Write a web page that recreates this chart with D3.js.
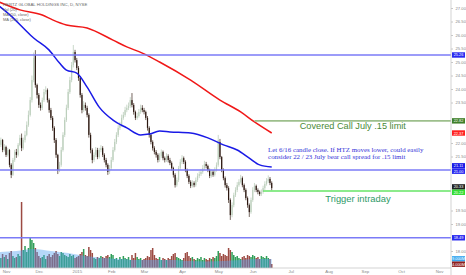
<!DOCTYPE html>
<html><head><meta charset="utf-8">
<script src="https://cdn.jsdelivr.net/npm/d3@7"></script>
<style>html,body{margin:0;padding:0;background:#fff;overflow:hidden}</style>
</head><body><svg id="c" width="466" height="275"></svg>
<script>
// ---- data (bar index 0 = 28 Oct 2014 ... 158 = 16 Jun 2015) ----
const opens=[21.80,21.93,22.11,21.74,21.85,21.56,21.74,21.19,20.82,21.37,
21.67,21.56,21.93,22.19,21.81,22.11,22.30,22.67,23.04,23.59,
24.33,25.26,24.15,23.78,23.41,23.30,23.59,23.89,23.96,23.59,
23.22,22.93,22.56,22.11,21.56,21.00,21.19,21.74,22.30,22.85,
23.30,23.89,24.33,24.89,25.37,25.07,24.78,24.41,23.78,23.22,
23.41,23.30,23.04,22.30,21.74,21.37,21.56,21.74,21.48,21.74,
21.81,21.56,21.37,21.19,20.93,21.07,21.37,21.74,22.04,22.30,
22.56,22.67,22.93,23.04,23.22,23.30,23.37,23.59,23.41,23.15,
22.93,23.00,23.15,23.30,23.22,23.15,22.93,22.56,22.30,22.04,
21.81,21.67,21.56,21.37,21.52,21.67,21.44,21.37,21.52,21.37,
21.26,21.07,20.82,20.44,20.63,21.07,21.30,21.44,21.30,21.00,
20.78,20.56,20.41,20.52,20.44,20.63,20.78,20.85,20.93,21.07,
21.22,21.15,21.00,20.78,20.93,20.82,21.00,21.19,22.04,21.48,
21.00,20.70,20.44,20.33,19.89,19.33,19.70,20.07,20.26,20.44,
20.56,20.70,20.44,20.26,19.96,19.70,19.44,19.89,20.26,20.41,
20.26,20.19,20.11,20.19,20.33,20.48,20.59,20.67,20.52];
const closes=[21.93,22.11,21.74,21.85,21.56,21.74,21.19,20.82,21.37,21.67,
21.56,21.93,22.19,21.81,22.11,22.30,22.67,23.04,23.59,24.33,
25.15,24.15,23.78,23.41,23.30,23.59,23.89,23.96,23.59,23.22,
22.93,22.56,22.11,21.56,21.00,21.19,21.74,22.30,22.85,23.30,
23.89,24.33,24.89,25.37,25.07,24.78,24.41,23.78,23.22,23.41,
23.30,23.04,22.30,21.74,21.37,21.56,21.74,21.48,21.74,21.81,
21.56,21.37,21.19,20.93,21.07,21.37,21.74,22.04,22.30,22.56,
22.67,22.93,23.04,23.22,23.30,23.37,23.59,23.41,23.15,22.93,
23.00,23.15,23.30,23.22,23.15,22.93,22.56,22.30,22.04,21.81,
21.67,21.56,21.37,21.52,21.67,21.44,21.37,21.52,21.37,21.26,
21.07,20.82,20.44,20.63,21.07,21.30,21.44,21.30,21.00,20.78,
20.56,20.41,20.52,20.44,20.63,20.78,20.85,20.93,21.07,21.22,
21.15,21.00,20.78,20.93,20.82,21.00,21.19,22.11,21.48,21.00,
20.70,20.44,20.33,19.89,19.33,19.70,20.07,20.26,20.44,20.56,
20.70,20.44,20.26,19.96,19.70,19.44,19.89,20.26,20.41,20.26,
20.19,20.11,20.19,20.33,20.48,20.59,20.67,20.52,20.33];
const highs=[22.05,22.20,22.15,21.96,21.90,21.82,21.78,21.25,21.45,21.75,
21.78,22.00,22.30,22.35,22.20,22.45,22.80,23.20,23.70,24.50,
25.35,25.44,24.20,23.85,23.50,23.68,24.00,24.10,24.02,23.65,
23.30,23.00,22.62,22.18,21.60,21.30,21.85,22.40,22.95,23.42,
24.00,24.45,25.00,25.63,25.45,25.15,24.85,24.48,23.85,23.55,
23.50,23.38,23.10,22.38,21.80,21.65,21.85,21.82,21.82,21.92,
21.88,21.62,21.45,21.25,21.18,21.48,21.85,22.15,22.40,22.66,
22.78,23.05,23.15,23.34,23.42,23.50,23.70,23.85,23.48,23.20,
23.12,23.26,23.42,23.40,23.30,23.20,23.00,22.62,22.36,22.10,
21.88,21.74,21.62,21.62,21.76,21.72,21.50,21.62,21.58,21.45,
21.32,21.12,20.88,20.72,21.15,21.40,21.55,21.50,21.36,21.05,
20.84,20.62,20.62,20.58,20.72,20.88,20.95,21.04,21.18,21.34,
21.30,21.20,21.05,21.02,21.00,21.10,21.28,22.30,22.15,21.52,
21.06,20.76,20.52,20.40,19.95,19.80,20.16,20.36,20.55,20.66,
20.82,20.76,20.50,20.32,20.02,19.76,19.98,20.36,20.52,20.46,
20.32,20.24,20.28,20.42,20.58,20.70,20.80,20.74,20.58];
const lows=[21.72,21.85,21.66,21.68,21.48,21.50,21.10,20.70,20.78,21.30,
21.45,21.50,21.88,21.70,21.75,22.02,22.25,22.60,22.98,23.50,
24.25,24.05,23.65,23.30,23.20,23.22,23.52,23.80,23.50,23.12,
22.85,22.45,22.00,21.45,20.85,20.92,21.12,21.68,22.22,22.78,
23.22,23.82,24.25,24.80,24.98,24.70,24.30,23.68,23.10,23.15,
23.20,22.95,22.20,21.62,21.25,21.30,21.48,21.40,21.42,21.66,
21.48,21.28,21.10,20.82,20.85,21.00,21.30,21.68,21.96,22.22,
22.48,22.60,22.86,22.97,23.14,23.22,23.30,23.32,23.05,22.85,
22.86,22.94,23.08,23.14,23.06,22.85,22.46,22.20,21.95,21.72,
21.58,21.46,21.28,21.30,21.45,21.36,21.28,21.30,21.28,21.18,
20.98,20.72,20.35,20.38,20.56,21.00,21.22,21.22,20.92,20.70,
20.48,20.33,20.35,20.36,20.38,20.56,20.70,20.78,20.86,21.00,
21.06,20.92,20.70,20.72,20.75,20.76,20.94,21.12,21.40,20.92,
20.62,20.35,20.24,19.78,19.15,19.25,19.62,20.00,20.18,20.38,
20.50,20.36,20.18,19.88,19.60,19.26,19.38,19.82,20.18,20.18,
20.10,20.04,20.04,20.12,20.26,20.42,20.52,20.44,20.25];
const volumes=[12,10,14,11,13,9,15,17,12,10,11,14,12,
66,
18,22,16,20,30,28,25,
20,16,12,10,11,13,9,12,14,11,13,15,17,14,12,
16,15,13,12,11,14,12,13,10,11,
12,14,16,19,13,12,21,18,15,10,9,11,10,12,11,
10,12,13,11,14,13,9,10,8,11,9,12,10,9,11,8,13,10,15,11,
9,10,8,9,10,12,11,18,20,13,10,9,11,8,10,9,8,10,9,12,
14,15,11,10,9,8,10,15,16,12,10,11,9,8,10,9,11,8,10,9,
8,10,9,11,10,12,17,15,12,14,13,12,20,18,16,13,11,12,10,9,
11,12,10,13,12,11,13,12,10,11,9,12,11,10,12,10,9,4];
const volMaIdx=[0,10,20,30,40,50,60,70,80,90,100,110,120,130,140,150,158];
const volMaVal=[16,17,19,17,15,12,10,9,8,8,8,7,6.5,7,8,9,9];
const ma50Idx=[0,7,14,20,29,35,39,45,51,58,66,74,82,87,93,99,111,121,130,138,145,151,158];
const ma50Val=[27.07,26.70,26.26,25.89,25.44,24.96,24.70,24.59,24.07,23.33,22.85,22.56,22.30,22.33,22.44,22.41,22.37,22.19,21.93,21.74,21.44,21.19,21.11];
const ma200Idx=[0,12,25,31,39,51,66,74,83,93,111,128,140,148,158];
const ma200Val=[27.22,26.93,26.74,26.56,26.37,26.26,25.81,25.56,25.33,25.00,24.33,23.59,23.15,22.78,22.37];
const levelVals=[25.26,22.82,21.00,20.22,18.49];
const levelStart=[0,148,0,153,0];
const priceTicks=[27,26.5,26,25.5,25,24.5,24,23.5,23,22.5,22,21.5,21,20.5,20,19.5,19,18.5,18];
const monthIdx=[4,23,45,65,84,106,127,147,169,191,212,233,255];
const monthLabels=["Nov","Dec","2015","Feb","Mar","Apr","May","Jun","Jul","Aug","Sep","Oct","Nov"];
const legendLines=["HERTZ GLOBAL HOLDINGS INC, D, NYSE","Vol (20)","MA (50, close)","MA (200, close)"];

// ---- drawing ----
const svg=d3.select("#c");
const PW=451, PB=268;
const x=d3.scaleLinear().domain([0.5,262.5]).range([0,452]);
const y=d3.scaleLinear().domain([18,27]).range([251,8]);
const yV=d3.scaleLinear().domain([0,66]).range([PB,202]);
svg.append("rect").attr("width",466).attr("height",275).attr("fill","#fff");
svg.append("defs").append("clipPath").attr("id","clip").append("rect").attr("x",0).attr("y",0).attr("width",PW).attr("height",PB);
const g=svg.append("g").attr("clip-path","url(#clip)");
const idx=d3.range(closes.length);
const up=i=>closes[i]>=opens[i];

// volume bars
g.selectAll(".vb").data(idx).join("rect")
 .attr("x",i=>x(i)-0.75).attr("width",1.5)
 .attr("y",i=>yV(volumes[i])).attr("height",i=>PB-yV(volumes[i]))
 .attr("fill",i=>up(i)?"#2f9e58":"#9c4a42");
// volume MA area
g.append("path").datum(volMaIdx)
 .attr("d",d3.area().x(i=>x(i)).y0(PB).y1((i,k)=>yV(volMaVal[k])).curve(d3.curveMonotoneX))
 .attr("fill","rgba(80,160,240,0.42)");

// candles
g.selectAll(".wk").data(idx).join("line")
 .attr("x1",i=>x(i)).attr("x2",i=>x(i))
 .attr("y1",i=>y(highs[i])).attr("y2",i=>y(lows[i]))
 .attr("stroke",i=>up(i)?"#b4c8b4":"#3a2418").attr("stroke-width",0.7);
g.selectAll(".bd").data(idx).join("rect")
 .attr("x",i=>x(i)-0.6).attr("width",1.2)
 .attr("y",i=>y(Math.max(opens[i],closes[i])))
 .attr("height",i=>Math.max(0.8,Math.abs(y(opens[i])-y(closes[i]))))
 .attr("fill",i=>up(i)?"#bccfbc":"#2b1710");

// moving averages
g.append("path").datum(ma200Idx)
 .attr("d",d3.line().x(i=>x(i)).y((i,k)=>y(ma200Val[k])).curve(d3.curveMonotoneX))
 .attr("fill","none").attr("stroke","#f01818").attr("stroke-width",1.5);
g.append("path").datum(ma50Idx)
 .attr("d",d3.line().x(i=>x(i)).y((i,k)=>y(ma50Val[k])).curve(d3.curveMonotoneX))
 .attr("fill","none").attr("stroke","#1a1ae6").attr("stroke-width",1.5);

// horizontal levels
const levelColors=["#7b7bf7","#9dbf8c","#7b7bf7","#66e466","#7b7bf7"];
levelVals.forEach((v,k)=>{
  g.append("line").attr("x1",levelStart[k]===0?0:x(levelStart[k])).attr("x2",PW)
   .attr("y1",y(v)).attr("y2",y(v)).attr("stroke",levelColors[k]).attr("stroke-width",1.6);
});

// annotations
svg.append("text").attr("x",x(205)).attr("y",y(22.52)).attr("text-anchor","middle")
 .attr("font-family","Liberation Sans, Arial, sans-serif").attr("font-size",9.2).attr("fill","#4a8a36")
 .text("Covered Call July .15 limit");
const note=svg.append("text").attr("font-family","Liberation Serif, Times New Roman, serif").attr("font-size",6.9).attr("fill","#3434d8");
note.append("tspan").attr("x",x(155.9)).attr("y",y(21.66)).text("Let 6/16 candle close. If HTZ moves lower, could easily");
note.append("tspan").attr("x",x(155.9)).attr("y",y(21.39)).text("consider 22 / 23 July bear call spread for .15 limit");
svg.append("text").attr("x",x(208)).attr("y",y(19.82)).attr("text-anchor","middle")
 .attr("font-family","Liberation Sans, Arial, sans-serif").attr("font-size",9.4).attr("fill","#2e9a66")
 .text("Trigger intraday");

// legend
svg.selectAll(".lg").data(legendLines).join("text")
 .attr("x",3).attr("y",(d,i)=>6+i*5).attr("font-family","Liberation Sans, Arial, sans-serif")
 .attr("font-size",(d,i)=>i===0?4.3:4).attr("fill","#666").text(d=>d);

// axes frame
svg.append("line").attr("x1",PW).attr("x2",PW).attr("y1",0).attr("y2",PB+7).attr("stroke","#c8c8c8").attr("stroke-width",0.8);
svg.append("line").attr("x1",0).attr("x2",PW).attr("y1",PB).attr("y2",PB).attr("stroke","#c8c8c8").attr("stroke-width",0.8);

// value boxes
const last=closes.length-1;
const boxes=[
 {v:y(levelVals[0]),c:"#2a2af0",t:d3.format(".2f")(levelVals[0])},
 {v:y(levelVals[1]),c:"#3f7f2a",t:d3.format(".2f")(levelVals[1])},
 {v:y(ma200Val[ma200Val.length-1]),c:"#ff2020",t:d3.format(".2f")(ma200Val[ma200Val.length-1])},
 {v:y(ma50Val[ma50Val.length-1]),c:"#1a1ae6",t:d3.format(".2f")(ma50Val[ma50Val.length-1])},
 {v:y(levelVals[2]),c:"#2a2af0",t:d3.format(".2f")(levelVals[2])},
 {v:y(closes[last]),c:"#222222",t:d3.format(".2f")(closes[last])},
 {v:y(levelVals[3]),c:"#33dd33",t:d3.format(".2f")(levelVals[3])},
 {v:y(levelVals[4]),c:"#2a2af0",t:d3.format(".2f")(levelVals[4])},
 {v:yV(volMaVal[volMaVal.length-1]),c:"#3aa8f0",t:d3.format(".3f")(volMaVal[volMaVal.length-1])+"M"},
 {v:yV(volumes[last]),c:"#8e1e1e",t:d3.format(".3f")(volumes[last])+"M"}
];
boxes.forEach(b=>b.y=b.v);
boxes.sort((a,b)=>a.y-b.y);
const BH=5.4;
for(let it=0;it<30;it++){
  for(let k=1;k<boxes.length;k++){
    const d=boxes[k].y-boxes[k-1].y;
    if(d<BH){const s=(BH-d)/2;boxes[k].y+=s;boxes[k-1].y-=s;}
  }
  boxes.forEach(b=>{if(b.y>PB+2)b.y=PB+2;});
}
// price axis
const ax=svg.append("g").attr("transform",`translate(${PW},0)`)
 .call(d3.axisRight(y).tickValues(priceTicks).tickFormat(d3.format(".2f")).tickSize(2).tickPadding(2.5));
ax.select(".domain").remove();
ax.selectAll("line").attr("stroke","#c8c8c8");
ax.selectAll("text").attr("font-size",4.2).attr("fill","#888").attr("font-family","Liberation Sans, Arial, sans-serif");
ax.selectAll(".tick").filter(t=>boxes.some(b=>Math.abs(b.y-y(t))<5)||y(t)>PB-10).remove();

const bg=svg.selectAll(".bx").data(boxes).join("g").attr("transform",b=>`translate(${PW+1},${b.y})`);
bg.append("rect").attr("x",0).attr("y",-BH/2).attr("width",13).attr("height",BH).attr("fill",b=>b.c);
bg.append("text").attr("x",6.5).attr("y",1.5).attr("text-anchor","middle").attr("font-size",3.9)
 .attr("font-family","Liberation Sans, Arial, sans-serif").attr("fill","#fff").text(b=>b.t);

// time axis
const tx=svg.append("g").attr("transform",`translate(0,${PB})`)
 .call(d3.axisBottom(x).tickValues(monthIdx).tickFormat((d,i)=>monthLabels[i]).tickSize(0).tickPadding(2));
tx.select(".domain").remove();
tx.selectAll("text").attr("font-size",4.3).attr("fill","#888").attr("font-family","Liberation Sans, Arial, sans-serif");
</script></body></html>
